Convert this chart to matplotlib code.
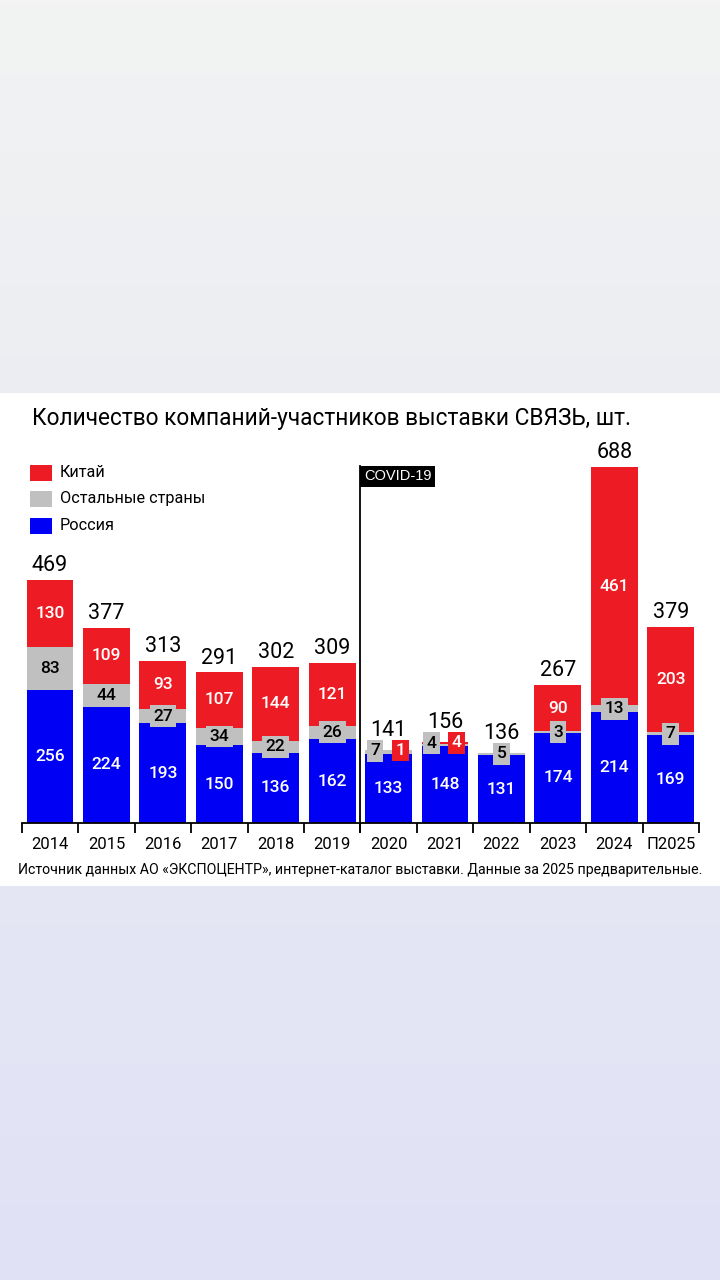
import numpy as np
import matplotlib.pyplot as plt
from matplotlib.patches import Rectangle

plt.rcParams['font.family'] = ['Roboto', 'DejaVu Sans']

# data
years = ['2014', '2015', '2016', '2017', '2018', '2019',
         '2020', '2021', '2022', '2023', '2024', 'П2025']
russia = [256, 224, 193, 150, 136, 162, 133, 148, 131, 174, 214, 169]
other = [83, 44, 27, 34, 22, 26, 7, 4, 5, 3, 13, 7]
china = [130, 109, 93, 107, 144, 121, 1, 4, 0, 90, 461, 203]
totals = [469, 377, 313, 291, 302, 309, 141, 156, 136, 267, 688, 379]

RED = '#ed1c24'
GREY = '#c0c0c0'
BLUE = '#0000f5'

fig = plt.figure(figsize=(7.2, 12.8), dpi=100)

# page background gradient + white card
bg = fig.add_axes([0, 0, 1, 1])
grad = np.linspace(0, 1, 256).reshape(-1, 1)
c_top = np.array([0xf2, 0xf3, 0xf2]) / 255
c_bot = np.array([0xe0, 0xe1, 0xf5]) / 255
img = c_top + (c_bot - c_top) * grad[:, :, None]
bg.imshow(img, aspect='auto', extent=[0, 1, 0, 1])
bg.add_patch(Rectangle((0, 1 - 886 / 1280), 1, (886 - 393) / 1280,
                       facecolor='white', edgecolor='none'))
bg.set_xlim(0, 1)
bg.set_ylim(0, 1)
bg.axis('off')

# chart axes: baseline at y=823px, 0.518 px per unit
ymax = 800
ax = fig.add_axes([21.8 / 720, 1 - 823 / 1280, 677.2 / 720, ymax * 0.518 / 1280])
ax.set_facecolor('none')
x = np.arange(len(years))
w = 0.83
bottom2 = np.array(russia) + np.array(other)
ax.bar(x, russia, w, color=BLUE, zorder=2)
ax.bar(x, other, w, bottom=russia, color=GREY, zorder=2)
ax.bar(x, china, w, bottom=bottom2, color=RED, zorder=2)
ax.set_xlim(-0.5, len(years) - 0.5)
ax.set_ylim(0, ymax)

for s in ['top', 'right', 'left']:
    ax.spines[s].set_visible(False)
ax.spines['bottom'].set_linewidth(1.3)
ax.set_yticks([])
ax.set_xticks(np.arange(-0.5, len(years)))
ax.set_xticklabels([])
ax.tick_params(axis='x', length=7, width=1.3, direction='out')
for i, y in enumerate(years):
    ax.text(i, -27, y, ha='center', va='top', fontsize=12, color='black')

lab = dict(ha='center', va='center', fontsize=12.5, fontweight='medium', zorder=5)
gbox = dict(boxstyle='square,pad=0.2', facecolor=GREY, edgecolor='none')
rbox = dict(boxstyle='square,pad=0.2', facecolor=RED, edgecolor='none')
for i in range(len(years)):
    ax.text(i, russia[i] / 2, str(russia[i]), color='white', **lab)
    off = 7 if china[i] >= 20 else 17
    ax.text(i, totals[i] + off, str(totals[i]), ha='center', va='bottom',
            fontsize=15.5, color='black')
    if china[i] >= 20:
        ax.text(i, bottom2[i] + china[i] / 2, str(china[i]), color='white', **lab)
        ax.text(i, russia[i] + other[i] / 2, str(other[i]), color='black',
                bbox=gbox, **lab)
    elif china[i] > 0:
        ax.text(i - 0.24, totals[i] - 2, str(other[i]), color='black',
                bbox=gbox, **lab)
        ax.text(i + 0.21, totals[i] - 1, str(china[i]), color='white',
                bbox=rbox, **lab)
    else:
        ax.text(i, russia[i] + other[i] / 2, str(other[i]), color='black',
                bbox=gbox, **lab)

# COVID-19 marker
ax.plot([5.5, 5.5], [-17, 690], color='black', lw=1.3, clip_on=False, zorder=3)
ax.annotate('COVID-19', xy=(5.5, 690), xytext=(2.6, -2.6), textcoords='offset points',
            ha='left', va='top', fontsize=10.5, color='white',
            family=['Liberation Sans', 'DejaVu Sans'],
            bbox=dict(boxstyle='square,pad=0.25', facecolor='black', edgecolor='none'))

# title, legend, source
fig.text(32 / 720, 1 - 418 / 1280, 'Количество компаний-участников выставки СВЯЗЬ, шт.',
         ha='left', va='center', fontsize=16.3, color='black')
leg = [('Китай', RED), ('Остальные страны', GREY), ('Россия', BLUE)]
for k, (name, col) in enumerate(leg):
    yc = 472.5 + k * 26.5
    fig.patches.append(Rectangle((30 / 720, 1 - (yc + 8) / 1280), 22 / 720, 16 / 1280,
                                 transform=fig.transFigure, facecolor=col,
                                 edgecolor='none'))
    fig.text(60 / 720, 1 - yc / 1280, name, ha='left', va='center',
             fontsize=11.7, color='black')
fig.text(360 / 720, 1 - 870 / 1280,
         'Источник данных АО «ЭКСПОЦЕНТР», интернет-каталог выставки. Данные за 2025 предварительные.',
         ha='center', va='center', fontsize=10.2, color='black')

fig.savefig('out.png', dpi=100)
